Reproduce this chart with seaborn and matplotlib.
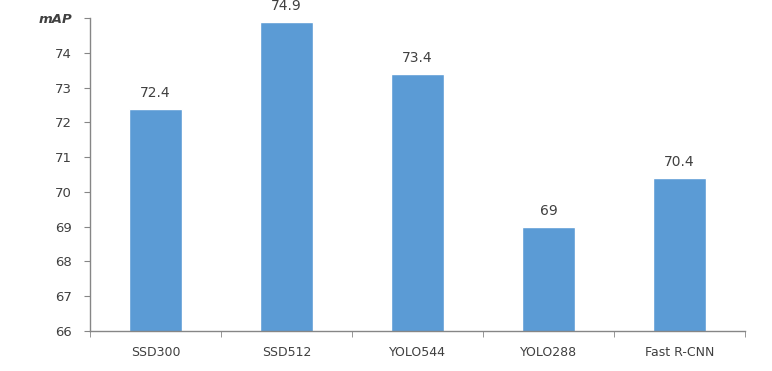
import numpy as np
import pandas as pd
import seaborn as sns
import matplotlib.pyplot as plt

# Values
models = ['SSD300', 'SSD512', 'YOLO544', 'YOLO288', 'Fast R-CNN']
map_scores = [72.4, 74.9, 73.4, 69, 70.4]
y_ticks = [66, 67, 68, 69, 70, 71, 72, 73, 74, 75]
y_labels = ['66', '67', '68', '69', '70', '71', '72', '73', '74', 'mAP']

df = pd.DataFrame({'model': models, 'mAP': map_scores})

sns.set_style("white")
plt.rcParams['font.family'] = ['DejaVu Sans']

fig = plt.figure(figsize=(7.72, 3.71), dpi=100)
ax = fig.add_axes([0.1166, 0.108, 0.8484, 0.843])

sns.barplot(data=df, x='model', y='mAP', color='#5B9BD5', saturation=1,
            width=0.4, ax=ax)

# value labels above bars
for i, v in enumerate(map_scores):
    ax.text(i, v + 0.25, '{:g}'.format(v), ha='center', va='bottom',
            fontsize=10, color='#404040')

ax.set_ylim(66, 75)
ax.set_xlim(-0.5, len(models) - 0.5)
ax.set_yticks(y_ticks)
ax.set_yticklabels(y_labels)
ax.set_xlabel('')
ax.set_ylabel('')

# the top tick label is the axis title
top_lbl = ax.get_yticklabels()[-1]
top_lbl.set_fontweight('bold')
top_lbl.set_fontstyle('italic')
top_lbl.set_fontsize(9)

# category separators as minor ticks on x
ax.set_xticks(np.arange(-0.5, len(models), 1.0), minor=True)
ax.tick_params(axis='x', which='major', length=0, pad=11, labelsize=9, labelcolor='#404040')
ax.tick_params(axis='x', which='minor', length=4, color='#868686', direction='out', bottom=True)
ax.tick_params(axis='y', length=4, color='#868686', direction='out', left=True,
               labelsize=9.5, labelcolor='#404040', pad=9)

for side in ['top', 'right']:
    ax.spines[side].set_visible(False)
for side in ['left', 'bottom']:
    ax.spines[side].set_color('#868686')
    ax.spines[side].set_linewidth(1)

fig.savefig('out.png', dpi=100)
